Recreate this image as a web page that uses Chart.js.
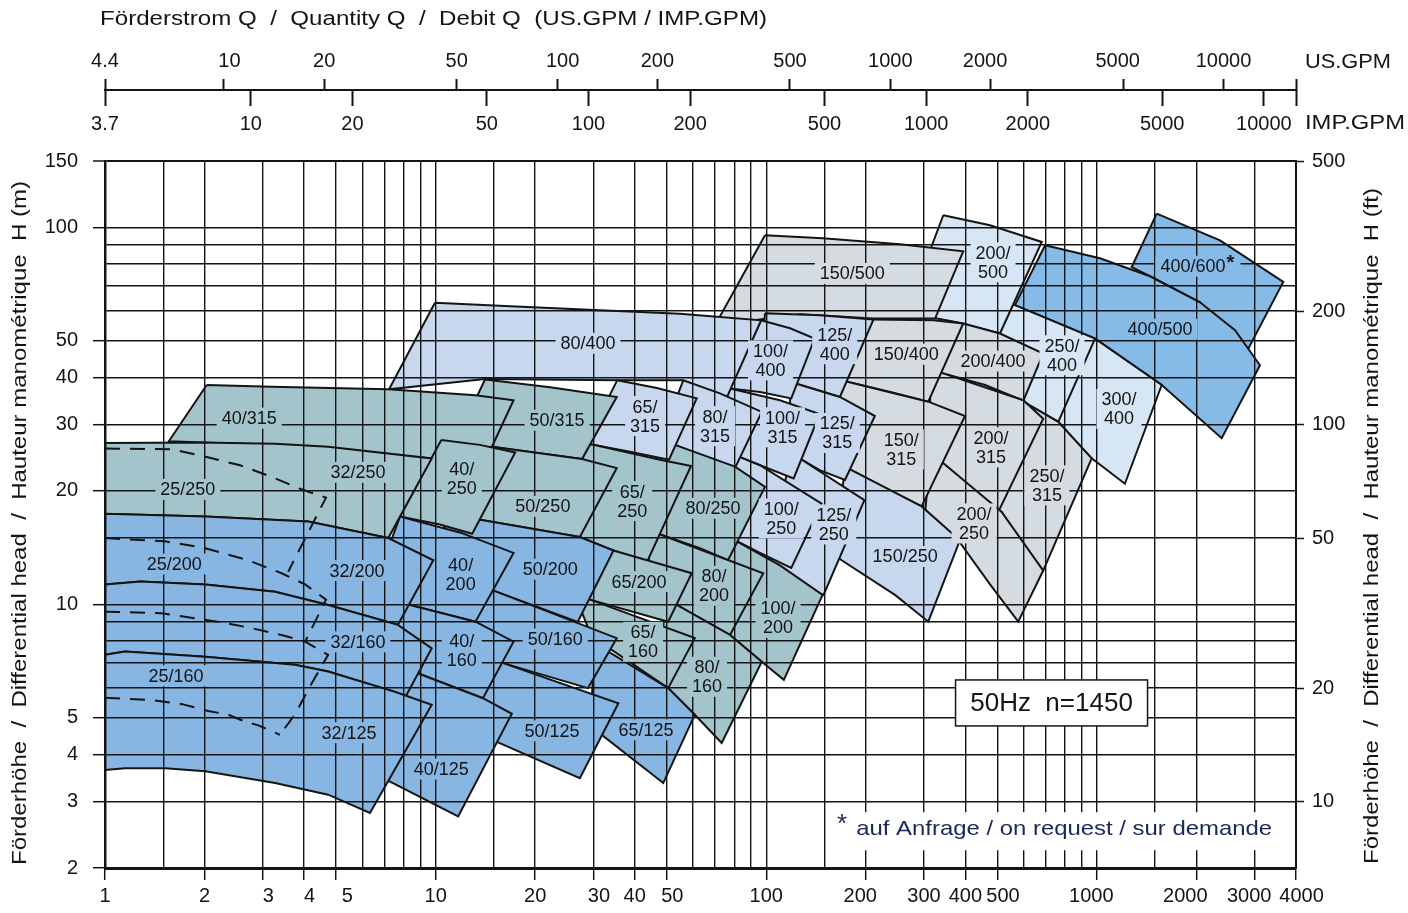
<!DOCTYPE html>
<html>
<head>
<meta charset="utf-8">
<title>Kennfeld 50Hz n=1450</title>
<script src="https://cdn.jsdelivr.net/npm/chart.js@4.4.1/dist/chart.umd.min.js"></script>
<style>
  html, body { margin: 0; padding: 0; background: #ffffff; }
  #wrap { width: 1408px; height: 913px; }
</style>
</head>
<body>
<div id="wrap"><canvas id="chart" width="1408" height="913"></canvas></div>
<script>
// ---------- axis values ----------
const gridQ   = [1, 1.5, 2, 3, 4, 5, 6, 7, 8, 9, 10, 15, 20, 30, 40, 50, 60, 70, 80, 90,
                 100, 150, 200, 300, 400, 500, 600, 700, 800, 900, 1000, 1500, 2000, 3000, 4000];
const labelQ  = [1, 2, 3, 4, 5, 10, 20, 30, 40, 50, 100, 200, 300, 400, 500, 1000, 2000, 3000, 4000];
// printed flow labels (figure spaces nudge a few of them sideways)
const labelQText = ['1', '2', '\u20073', '\u20074', '\u2007\u20075', '10', '20', '\u200730', '40', '\u200750',
                    '100', '200\u2007', '300', '400', '\u2007500', '1000\u2007', '2000\u2007\u2007', '3000\u2007', '\u20074000'];
const gridH   = [2, 3, 4, 5, 6, 7, 8, 9, 10, 15, 20, 30, 40, 50, 60, 70, 80, 90, 100, 150];
const labelH  = [2, 3, 4, 5, 10, 20, 30, 40, 50, 100, 150];
const ticksFt = [10, 20, 50, 100, 200, 500];
const ticksUsGpm  = [4.4, 10, 20, 50, 100, 200, 500, 1000, 2000, 5000, 10000];
const labelUsGpmText = ['4.4', '\u200710', '20', '50', '\u2007100', '200', '500', '1000', '2000\u2007', '5000\u2007', '10000'];
const ticksImpGpm = [3.7, 10, 20, 50, 100, 200, 500, 1000, 2000, 5000, 10000];

// ---------- operating ranges: flow Q (m³/h) and head H (m), outline points ----------
const q_32_250 = [1, 1.94, 3.27, 4.73, 9.73, 7.19, 4.12, 2.01, 1];
const h_32_250 = [26.8, 26.9, 26.7, 26.2, 24.4, 15.0, 16.6, 17.1, 17.4];
const q_32_200 = [1, 2.01, 4.12, 7.19, 9.84, 7.69, 4.73, 3.27, 2.01, 1.28, 1];
const h_32_200 = [17.4, 17.1, 16.6, 15.0, 13.1, 8.83, 9.97, 10.8, 11.3, 11.5, 11.3];
const q_32_160 = [1, 1.28, 2.01, 3.27, 4.73, 7.69, 9.73, 8.13, 4.73, 3.75, 2.01, 1.15, 1];
const h_32_160 = [11.3, 11.5, 11.3, 10.8, 9.97, 8.83, 7.65, 5.72, 6.64, 6.92, 7.27, 7.50, 7.35];
const q_32_125 = [1, 1.15, 2.01, 3.75, 4.73, 7.53, 9.73, 6.33, 4.73, 3.27, 2.01, 1.52, 1.15, 1];
const h_32_125 = [7.35, 7.50, 7.27, 6.92, 6.64, 5.87, 5.42, 2.80, 3.13, 3.36, 3.61, 3.68, 3.68, 3.64];

const q_40_315 = [2.03, 3.19, 7.19, 13.2, 17.2, 14.8, 10.7, 9.73, 3.89, 1.56];
const h_40_315 = [38.2, 37.8, 37.2, 35.9, 34.8, 26.2, 25.4, 24.4, 26.3, 27.1];
const q_40_250 = [10.4, 13.6, 17.4, 12.9, 10.3, 7.80];
const h_40_250 = [27.3, 26.5, 25.3, 15.4, 16.3, 17.1];
const q_40_200 = [7.80, 11.9, 17.2, 13.2, 8.36, 6.33];
const h_40_200 = [17.1, 15.5, 13.7, 9.00, 9.97, 10.4];
const q_40_160 = [6.79, 8.36, 13.2, 17.2, 13.9, 9.07, 6.79];
const h_40_160 = [10.4, 9.97, 9.00, 7.97, 5.64, 6.51, 7.04];
const q_40_125 = [6.33, 9.07, 13.9, 17.0, 11.7, 7.28, 5.51];
const h_40_125 = [7.21, 6.51, 5.64, 5.13, 2.74, 3.39, 3.76];

const q_50_315 = [14.1, 22.2, 35.3, 27.7, 14.8, 11.4];
const h_50_315 = [39.5, 37.7, 35.5, 24.3, 26.2, 26.6];
const q_50_250 = [11.4, 14.8, 27.7, 35.3, 27.3, 13.5, 10.3];
const h_50_250 = [26.6, 26.2, 24.3, 23.0, 15.1, 16.8, 17.3];
const q_50_200 = [10.3, 13.5, 27.3, 34.5, 26.9, 14.9, 12.3];
const h_50_200 = [17.3, 16.8, 15.1, 13.9, 8.99, 10.9, 11.5];
const q_50_160 = [12.3, 14.9, 35.3, 28.9, 16.0, 12.7];
const h_50_160 = [11.6, 10.9, 8.14, 6.00, 6.99, 7.48];
const q_50_125 = [13.2, 16.0, 35.7, 27.3, 15.5, 12.7];
const h_50_125 = [7.35, 6.99, 5.47, 3.46, 4.30, 4.60];

const q_65_315 = [35.4, 46.7, 61.6, 50.8, 38.7, 29.9, 28.3];
const h_65_315 = [39.3, 37.5, 35.2, 24.2, 25.4, 26.5, 26.6];
const q_65_250 = [28.3, 30.0, 47.7, 59.2, 43.3, 34.4, 27.3, 25.5];
const h_65_250 = [26.6, 26.5, 24.2, 23.3, 12.8, 13.9, 15.1, 15.4];
const q_65_200 = [28.3, 34.5, 59.5, 50.5, 29.3, 26.4];
const h_65_200 = [14.8, 13.9, 12.1, 9.00, 10.3, 10.5];
const q_65_160 = [26.4, 29.3, 60.8, 50.5, 34.1, 30.3];
const h_65_160 = [10.6, 10.3, 8.14, 6.00, 7.57, 7.81];
const q_65_125 = [30.3, 33.3, 50.5, 60.8, 48.8, 31.8, 29.3];
const h_65_125 = [7.81, 7.50, 6.00, 5.10, 3.36, 4.51, 4.65];

const q_80_400 = [9.95, 16.2, 31.4, 54.8, 96.4, 76.1, 56.0, 35.4, 14.1, 7.23];
const h_80_400 = [63.1, 61.9, 60.3, 59.0, 56.7, 35.5, 39.3, 39.3, 39.6, 37.2];
const q_80_315 = [56.1, 72.4, 96.9, 80.4, 63.0, 51.7, 47.7];
const h_80_315 = [39.3, 36.3, 32.4, 23.0, 24.9, 26.7, 27.3];
const q_80_250 = [47.7, 51.7, 80.4, 99.1, 76.6, 63.0, 47.1, 41.5];
const h_80_250 = [27.3, 26.7, 23.2, 20.5, 13.1, 14.1, 15.4, 16.0];
const q_80_200 = [41.5, 47.1, 97.9, 77.7, 53.6, 47.7];
const h_80_200 = [16.0, 15.4, 12.1, 8.30, 9.97, 10.3];
const q_80_160 = [49.4, 53.6, 77.7, 96.9, 73.3, 60.8, 50.4, 47.7];
const h_80_160 = [10.3, 9.97, 8.30, 7.05, 4.29, 5.10, 6.01, 6.31];

const q_100_400 = [96.4, 118, 140, 119, 95.7, 77.7];
const h_100_400 = [56.7, 54.0, 50.7, 35.2, 36.6, 37.4];
const q_100_315 = [72.4, 77.7, 110, 145, 121, 95.7, 80.4];
const h_100_315 = [38.2, 37.4, 34.8, 32.0, 21.6, 23.4, 24.9];
const q_100_250 = [80.4, 95.7, 147, 119, 95.7, 80.4, 72.4];
const h_100_250 = [24.9, 23.4, 18.5, 12.5, 13.7, 14.8, 15.3];
const q_100_200 = [72.4, 80.4, 110, 148, 113, 96.9, 77.7, 70.0];
const h_100_200 = [15.3, 14.8, 12.7, 10.6, 6.31, 7.05, 8.30, 8.83];

const q_125_400 = [99.1, 145, 211, 167, 127, 95.7];
const h_125_400 = [59.2, 58.5, 57.0, 35.5, 38.2, 39.8];
const q_125_315 = [118, 127, 167, 213, 173, 145, 128, 118];
const h_125_315 = [38.9, 38.2, 35.5, 31.6, 21.4, 22.7, 24.2, 24.9];
const q_125_250 = [118, 128, 198, 149, 110, 103];
const h_125_250 = [24.9, 24.2, 18.9, 10.6, 11.6, 13.1];

const q_150_500 = [99.1, 148, 254, 394, 324, 210, 127, 70.0];
const h_150_500 = [95.3, 93.6, 90.2, 86.4, 57.3, 57.3, 58.8, 55.0];
const q_150_400 = [192, 211, 320, 394, 309, 237, 177, 167];
const h_150_400 = [57.1, 57.0, 56.7, 55.6, 34.5, 36.6, 38.9, 39.3];
const q_150_315 = [167, 177, 309, 399, 295, 221, 181, 167];
const h_150_315 = [39.3, 38.9, 34.5, 31.6, 18.2, 20.7, 22.7, 23.4];
const q_150_250 = [173, 181, 295, 385, 309, 245, 169, 161];
const h_150_250 = [23.1, 22.7, 18.2, 14.8, 9.00, 10.6, 13.1, 13.5];

const q_200_500 = [343, 475, 681, 509, 399, 324, 263];
const h_200_500 = [107.7, 101.3, 91.5, 52.3, 55.4, 57.3, 58.1];
const q_200_400 = [302, 394, 509, 688, 599, 459, 343, 282];
const h_200_400 = [58.1, 55.6, 52.3, 46.3, 34.7, 38.2, 41.0, 42.3];
const q_200_315 = [313, 343, 599, 688, 503, 339, 313];
const h_200_315 = [41.8, 41.0, 34.8, 31.1, 17.6, 23.9, 24.9];
const q_200_250 = [313, 339, 515, 688, 578, 475, 385, 302];
const h_200_250 = [24.9, 23.9, 17.6, 12.3, 9.00, 11.3, 14.6, 17.3];

const q_250_400 = [527, 565, 987, 764, 599, 475];
const h_250_400 = [64.1, 62.2, 50.7, 30.5, 34.5, 37.0];
const q_250_315 = [565, 599, 764, 964, 688, 585, 515, 475];
const h_250_315 = [35.3, 34.5, 30.5, 24.4, 12.3, 14.8, 17.6, 18.4];

const q_300_400 = [889, 987, 1570, 1215, 964, 764, 697];
const h_300_400 = [51.8, 50.7, 38.2, 20.9, 24.4, 30.5, 31.8];

const q_400_600 = [1516, 2356, 3661, 2869, 2049, 1447, 1274];
const h_400_600 = [108.8, 92.4, 71.7, 47.7, 63.3, 74.2, 78.5];
const q_400_500 = [697, 1021, 1447, 2049, 2616, 3112, 2384, 1570, 987, 565];
const h_400_500 = [89.7, 82.8, 74.2, 63.3, 53.4, 43.1, 27.6, 38.2, 50.7, 62.2];

// size 25 ranges, outlined with dashes over the size 32 fields
const q_25_a = [1, 1.59, 2.03, 2.56, 3.19, 3.93, 4.66, 3.58];
const h_25_a = [25.9, 25.8, 24.6, 23.4, 21.8, 20.2, 19.2, 12.2];
const q_25_b = [1, 1.52, 2.01, 2.71, 3.42, 4.03, 4.66, 4.03];
const h_25_b = [15.0, 14.7, 14.1, 13.1, 12.1, 11.3, 10.3, 7.96];
const q_25_c = [1, 1.48, 1.87, 2.25, 2.78, 3.42, 4.03, 4.73, 4.22, 3.75, 3.38];
const h_25_c = [9.57, 9.48, 9.19, 8.97, 8.65, 8.30, 7.97, 7.35, 6.18, 5.10, 4.51];
const q_25_d = [1, 1.38, 1.71, 2.05, 2.36, 2.65, 2.91, 3.38];
const h_25_d = [5.66, 5.58, 5.44, 5.22, 5.10, 4.89, 4.78, 4.51];

// ---------- size labels ----------
const sizeLabelText = ['40/315', '25/250', '32/250', '80/400', '150/500', '200/\n500', '400/600*', '400/500',
  '125/\n400', '100/\n400', '150/400', '200/400', '250/\n400', '300/\n400',
  '50/315', '65/\n315', '80/\n315', '100/\n315', '125/\n315', '150/\n315', '200/\n315', '250/\n315',
  '40/\n250', '50/250', '65/\n250', '80/250', '100/\n250', '125/\n250', '150/250', '200/\n250',
  '25/200', '32/200', '40/\n200', '50/200', '65/200', '80/\n200', '100/\n200',
  '32/160', '40/\n160', '50/160', '65/\n160', '80/\n160', '25/160',
  '32/125', '40/125', '50/125', '65/125'];
const sizeLabelQ = [2.73, 1.78, 5.82, 28.9, 182, 485, 1952, 1551,
  161, 103, 265, 485, 784, 1166,
  23.3, 43.0, 70.0, 112, 164, 256, 478, 706,
  12.0, 21.1, 39.3, 69.0, 111, 160, 263, 425,
  1.62, 5.78, 11.9, 22.2, 41.2, 69.5, 108.5,
  5.82, 12.0, 23.0, 42.4, 66.2, 1.64,
  5.47, 10.4, 22.5, 43.3];
const sizeLabelH = [31.2, 20.2, 22.4, 49.3, 75.5, 80.8, 78.9, 53.7,
  49.0, 44.4, 46.1, 44.2, 45.8, 33.0,
  30.8, 31.6, 29.7, 29.5, 28.5, 25.8, 26.1, 20.7,
  21.6, 18.2, 18.8, 18.0, 16.9, 16.3, 13.4, 16.4,
  12.8, 12.3, 12.0, 12.4, 11.5, 11.2, 9.21,
  7.96, 7.53, 8.10, 7.96, 6.43, 6.47,
  4.57, 3.66, 4.62, 4.65];
const sizeLabelTone = ['teal', 'teal', 'teal', 'peri', 'gray', 'light', 'deep', 'deep',
  'peri', 'peri', 'gray', 'gray', 'light', 'light',
  'teal', 'peri', 'peri', 'peri', 'peri', 'gray', 'gray', 'gray',
  'teal', 'teal', 'teal', 'teal', 'peri', 'peri', 'peri', 'gray',
  'blue', 'blue', 'blue', 'blue', 'teal', 'teal', 'teal',
  'blue', 'blue', 'blue', 'teal', 'teal', 'blue',
  'blue', 'blue', 'blue', 'blue'];

// ---------- styling ----------
const FONT = '"Liberation Sans", Arial, Helvetica, sans-serif';
const INK = '#141414';
const TONES = {
  blue:  '#87b6e3',
  teal:  '#a4c4cc',
  peri:  '#c6d7ee',
  gray:  '#d4dbe1',
  light: '#d6e6f5',
  deep:  '#86bbe8'
};

// fields listed from the back layer to the front layer (large sizes lie underneath)
const fieldLayers = [
  ['400/600', q_400_600, h_400_600, 'deep'], ['400/500', q_400_500, h_400_500, 'deep'],
  ['300/400', q_300_400, h_300_400, 'light'],
  ['250/400', q_250_400, h_250_400, 'light'], ['250/315', q_250_315, h_250_315, 'gray'],
  ['200/500', q_200_500, h_200_500, 'light'], ['200/400', q_200_400, h_200_400, 'gray'],
  ['200/315', q_200_315, h_200_315, 'gray'], ['200/250', q_200_250, h_200_250, 'gray'],
  ['150/500', q_150_500, h_150_500, 'gray'], ['150/400', q_150_400, h_150_400, 'gray'],
  ['150/315', q_150_315, h_150_315, 'gray'], ['150/250', q_150_250, h_150_250, 'peri'],
  ['125/400', q_125_400, h_125_400, 'peri'], ['125/315', q_125_315, h_125_315, 'peri'],
  ['125/250', q_125_250, h_125_250, 'peri'],
  ['100/400', q_100_400, h_100_400, 'peri'], ['100/315', q_100_315, h_100_315, 'peri'],
  ['100/250', q_100_250, h_100_250, 'peri'], ['100/200', q_100_200, h_100_200, 'teal'],
  ['80/400', q_80_400, h_80_400, 'peri'], ['80/315', q_80_315, h_80_315, 'peri'],
  ['80/250', q_80_250, h_80_250, 'teal'], ['80/200', q_80_200, h_80_200, 'teal'],
  ['80/160', q_80_160, h_80_160, 'teal'],
  ['65/315', q_65_315, h_65_315, 'peri'], ['65/250', q_65_250, h_65_250, 'teal'],
  ['65/200', q_65_200, h_65_200, 'teal'], ['65/160', q_65_160, h_65_160, 'teal'],
  ['65/125', q_65_125, h_65_125, 'blue'],
  ['50/315', q_50_315, h_50_315, 'teal'], ['50/250', q_50_250, h_50_250, 'teal'],
  ['50/200', q_50_200, h_50_200, 'blue'], ['50/160', q_50_160, h_50_160, 'blue'],
  ['50/125', q_50_125, h_50_125, 'blue'],
  ['40/315', q_40_315, h_40_315, 'teal'], ['40/250', q_40_250, h_40_250, 'teal'],
  ['40/200', q_40_200, h_40_200, 'blue'], ['40/160', q_40_160, h_40_160, 'blue'],
  ['40/125', q_40_125, h_40_125, 'blue'],
  ['32/250', q_32_250, h_32_250, 'teal'], ['32/200', q_32_200, h_32_200, 'blue'],
  ['32/160', q_32_160, h_32_160, 'blue'], ['32/125', q_32_125, h_32_125, 'blue']
];
const dashedOutlines = [[q_25_a, h_25_a], [q_25_b, h_25_b], [q_25_c, h_25_c], [q_25_d, h_25_d]];

const toPoints = (qs, hs) => qs.map((q, i) => ({ x: q, y: hs[i] }));

const backToFront = [];
fieldLayers.forEach(([name, qs, hs, tone]) => {
  const pts = toPoints(qs, hs);
  pts.push(pts[0]);
  backToFront.push({
    label: name, data: pts, xAxisID: 'x', yAxisID: 'y',
    showLine: true, fill: 'shape', tension: 0, pointRadius: 0,
    backgroundColor: TONES[tone], borderColor: INK, borderWidth: 2, borderJoinStyle: 'miter'
  });
});
dashedOutlines.forEach(([qs, hs], i) => {
  backToFront.push({
    label: '25 (' + i + ')', data: toPoints(qs, hs), xAxisID: 'x', yAxisID: 'y',
    showLine: true, fill: false, tension: 0, pointRadius: 0,
    borderColor: INK, borderWidth: 2, borderDash: [15, 10]
  });
});
// Chart.js paints the first dataset last, so the front layer goes first
const datasets = backToFront.slice().reverse();

const isIn = (v, list) => list.some(a => Math.abs(a - v) <= a * 1e-6);
const indexIn = (v, list) => list.findIndex(a => Math.abs(a - v) <= a * 1e-6);
const markIf = list => c => (c.tick && isIn(c.tick.value, list)) ? INK : 'rgba(0,0,0,0)';
const tickFont = { family: FONT, size: 20 };

// the GPM scale line sits 71 px above the plot frame (frame spans 161..868 px for 150..2 m)
const GPM_LINE_H = 150 * Math.pow(150 / 2, (161 - 90) / (868 - 161));

function wideText(ctx, text, x, y, size, targetW, align, angle, color) {
  ctx.save();
  ctx.font = size + 'px ' + FONT;
  const w = ctx.measureText(text).width;
  const sx = targetW ? targetW / w : 1;
  ctx.translate(x, y);
  if (angle) ctx.rotate(angle);
  ctx.scale(sx, 1);
  ctx.textAlign = align;
  ctx.textBaseline = 'middle';
  ctx.fillStyle = color || INK;
  ctx.fillText(text, 0, 0);
  ctx.restore();
}

// speed note and footnote anchors (Q in m³/h, H in m)
const SPEED_NOTE_AT = [729, 5.48];
const FOOTNOTE_AT = [187, 2.55];

const pageText = {
  id: 'pageText',
  afterDraw(chart) {
    const ctx = chart.ctx;
    const xs = chart.scales.x, ys = chart.scales.y;

    // size labels with a patch of field colour behind them
    ctx.save();
    ctx.font = '18px ' + FONT;
    ctx.textAlign = 'center';
    ctx.textBaseline = 'middle';
    sizeLabelText.forEach((txt, i) => {
      const px = xs.getPixelForValue(sizeLabelQ[i]);
      const py = ys.getPixelForValue(sizeLabelH[i]);
      const star = txt.endsWith('*');
      const lines = (star ? txt.slice(0, -1) : txt).split('\n');
      const lh = 19;
      const w = Math.max(...lines.map(l => ctx.measureText(l).width));
      const boxH = lines.length * lh;
      ctx.fillStyle = TONES[sizeLabelTone[i]];
      ctx.fillRect(px - w / 2 - 5, py - boxH / 2 - 1, w + 10 + (star ? 10 : 0), boxH + 2);
      ctx.fillStyle = INK;
      lines.forEach((l, k) => ctx.fillText(l, px, py - boxH / 2 + lh * (k + 0.5) + 1));
      if (star) {
        ctx.save();
        ctx.font = 'bold 20px ' + FONT;
        ctx.textAlign = 'left';
        ctx.fillText('*', px + w / 2 + 1, py - 3);
        ctx.restore();
      }
    });
    ctx.restore();

    // speed note box
    const bx = xs.getPixelForValue(SPEED_NOTE_AT[0]);
    const by = ys.getPixelForValue(SPEED_NOTE_AT[1]);
    ctx.save();
    ctx.fillStyle = '#ffffff';
    ctx.fillRect(bx - 96, by - 23, 192, 46);
    ctx.strokeStyle = INK;
    ctx.lineWidth = 1.5;
    ctx.strokeRect(bx - 96, by - 23, 192, 46);
    ctx.restore();
    wideText(ctx, '50Hz  n=1450', bx, by + 1, 26, 0, 'center');

    // footnote on a white strip
    const fx = xs.getPixelForValue(FOOTNOTE_AT[0]);
    const fy = ys.getPixelForValue(FOOTNOTE_AT[1]);
    ctx.save();
    ctx.fillStyle = '#ffffff';
    ctx.fillRect(fx - 22, fy - 16, 446, 38);
    ctx.restore();
    wideText(ctx, '*', fx - 14, fy - 3, 26, 0, 'center', 0, '#1b2857');
    wideText(ctx, 'auf Anfrage / on request / sur demande', fx, fy + 1, 21, 416, 'left', 0, '#1b2857');

    // headings and unit captions
    wideText(ctx, 'Förderstrom Q  /  Quantity Q  /  Debit Q  (US.GPM / IMP.GPM)', 100, 19, 20, 667, 'left');
    wideText(ctx, 'US.GPM', 1305, 62, 20, 86, 'left');
    wideText(ctx, 'IMP.GPM', 1305, 123, 20, 100, 'left');
    wideText(ctx, 'Förderhöhe  /  Differential head  /  Hauteur manométrique  H (m)', 20, 523, 20, 684, 'center', -Math.PI / 2);
    wideText(ctx, 'Förderhöhe  /  Differential head  /  Hauteur manométrique  H (ft)', 1372, 526, 20, 676, 'center', -Math.PI / 2);
  }
};

Chart.defaults.font.family = FONT;

new Chart(document.getElementById('chart'), {
  type: 'line',
  data: { datasets },
  plugins: [pageText],
  options: {
    responsive: false,
    devicePixelRatio: 1,
    animation: false,
    events: [],
    layout: { padding: { top: 161, left: 0, right: 0, bottom: 0 } },
    plugins: { legend: { display: false }, tooltip: { enabled: false }, title: { display: false } },
    scales: {
      x: {
        type: 'logarithmic', position: 'bottom', min: 1, max: 4000,
        afterBuildTicks: s => { s.ticks = gridQ.map(v => ({ value: v })); },
        afterFit: s => { s.height = 45; },
        ticks: {
          z: 2, autoSkip: false, maxRotation: 0, minRotation: 0, padding: 4, color: INK, font: tickFont,
          callback: v => { const i = indexIn(v, labelQ); return i < 0 ? '' : labelQText[i]; }
        },
        grid: { z: 1, color: INK, lineWidth: 1.4, drawTicks: true, tickLength: 12, tickWidth: 1.5, tickColor: markIf(labelQ) },
        border: { z: 2, display: true, color: INK, width: 3 }
      },
      y: {
        type: 'logarithmic', position: 'left', min: 2, max: 150,
        afterBuildTicks: s => { s.ticks = gridH.map(v => ({ value: v })); },
        afterFit: s => { s.width = 105; },
        ticks: {
          z: 2, autoSkip: false, padding: 15, color: INK, font: tickFont,
          callback: v => isIn(v, labelH) ? String(v) : ''
        },
        grid: {
          z: 1, color: INK, lineWidth: c => (c.tick && c.tick.value === 150) ? 2 : 1.4,
          drawTicks: true, tickLength: 12, tickWidth: 1.5, tickColor: markIf(labelH)
        },
        border: { z: 2, display: true, color: INK, width: 2.5 }
      },
      y2: {
        type: 'logarithmic', position: 'right', min: 500 * 2 / 150, max: 500,
        afterBuildTicks: s => { s.ticks = ticksFt.map(v => ({ value: v })); },
        afterFit: s => { s.width = 112; },
        ticks: { z: 2, autoSkip: false, padding: 8, color: INK, font: tickFont, callback: v => String(v) },
        grid: { z: 1, drawOnChartArea: false, drawTicks: true, tickLength: 8, tickWidth: 1.5, tickColor: INK },
        border: { z: 2, display: true, color: INK, width: 2 }
      },
      xUS: {
        type: 'logarithmic', axis: 'x', position: { y: GPM_LINE_H }, min: 4.4, max: 16500,
        afterBuildTicks: s => { s.ticks = ticksUsGpm.concat([16500]).map(v => ({ value: v })); },
        ticks: {
          autoSkip: false, maxRotation: 0, minRotation: 0, padding: -29, color: INK, font: tickFont,
          callback: v => { const i = indexIn(v, ticksUsGpm); return i < 0 ? '' : labelUsGpmText[i]; }
        },
        grid: { drawOnChartArea: false, drawTicks: true, tickLength: -12, tickWidth: 2, tickColor: INK },
        border: { display: true, color: INK, width: 2 }
      },
      xIMP: {
        type: 'logarithmic', axis: 'x', position: { y: GPM_LINE_H }, min: 3.7, max: 12450,
        afterBuildTicks: s => { s.ticks = ticksImpGpm.concat([12450]).map(v => ({ value: v })); },
        ticks: {
          autoSkip: false, maxRotation: 0, minRotation: 0, padding: 6, color: INK, font: tickFont,
          callback: v => isIn(v, ticksImpGpm) ? String(v) : ''
        },
        grid: { drawOnChartArea: false, drawTicks: true, tickLength: 16, tickWidth: 2, tickColor: INK },
        border: { display: false }
      }
    }
  }
});
</script>
</body>
</html>
